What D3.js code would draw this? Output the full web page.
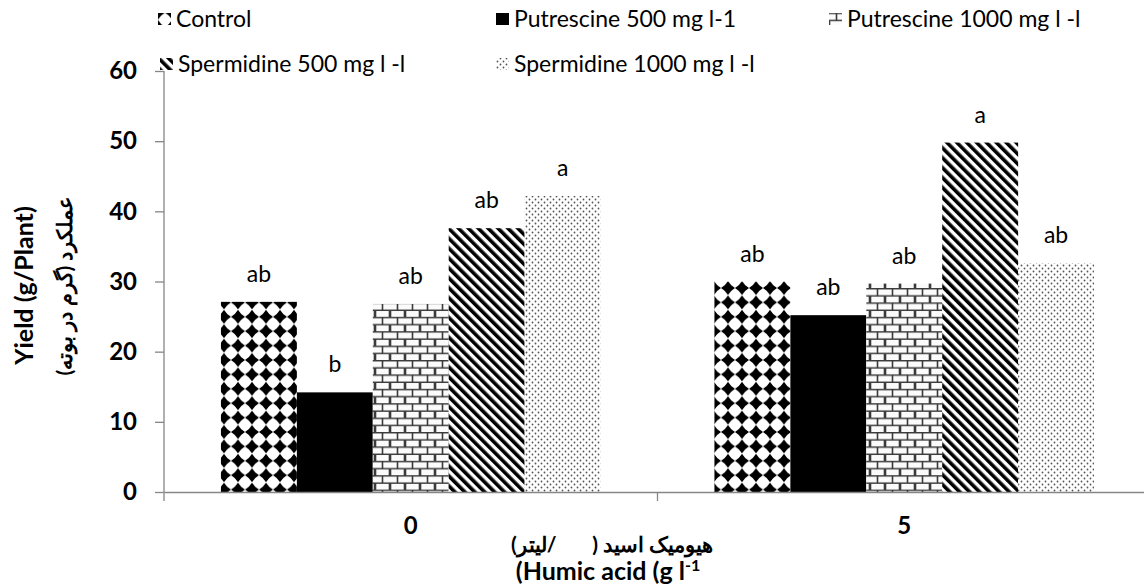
<!DOCTYPE html>
<html>
<head>
<meta charset="utf-8">
<script src="https://cdn.jsdelivr.net/npm/d3@7"></script>
<style>
  body { margin: 0; background: #fff; }
  text { font-family: Lato, "Open Sans", sans-serif; white-space: pre; }
</style>
</head>
<body>
<div id="chart"></div>
<script>
var svgWidth = 1144;
var svgHeight = 587;

// data
var groups = ["0", "5"];
var series = ["Control", "Putrescine 500 mg l-1", "Putrescine 1000 mg l -l", "Spermidine 500 mg l -l", "Spermidine 1000 mg l -l"];
var control = [27.1, 30.0];
var put500 = [14.2, 25.2];
var put1000 = [26.8, 29.7];
var spd500 = [37.6, 49.8];
var spd1000 = [42.2, 32.6];
var letters0 = ["ab", "b", "ab", "ab", "a"];
var letters5 = ["ab", "ab", "ab", "a", "ab"];
var yTicks = [0, 10, 20, 30, 40, 50, 60];

var seriesValues = [control, put500, put1000, spd500, spd1000];
var seriesLetters = [letters0, letters5];
var fills = ["url(#pCheck)", "#000", "url(#pBrick)", "url(#pDiag)", "url(#pDots)"];

var plot = { left: 164, right: 1151, top: 71, bottom: 492 };

var svg = d3.select("#chart")
  .append("svg")
  .attr("width", svgWidth)
  .attr("height", svgHeight);

// ---- patterns
var defs = svg.append("defs");

// black concave diamonds on the corners of a 14px grid
function diamond(cx, cy, r, c) {
  return `M${cx - r},${cy} Q${cx - c},${cy - c} ${cx},${cy - r} Q${cx + c},${cy - c} ${cx + r},${cy} ` +
    `Q${cx + c},${cy + c} ${cx},${cy + r} Q${cx - c},${cy + c} ${cx - r},${cy} Z`;
}
var pCheck = defs.append("pattern")
  .attr("id", "pCheck")
  .attr("patternUnits", "userSpaceOnUse")
  .attr("width", 14).attr("height", 14.4);
pCheck.append("rect").attr("width", 14).attr("height", 14.4).attr("fill", "#fff");
pCheck.append("path")
  .attr("d", [[0, 0], [14, 0], [0, 14.4], [14, 14.4]].map(p => diamond(p[0], p[1], 7, 2.6)).join(" "))
  .attr("fill", "#000");

var pBrick = defs.append("pattern")
  .attr("id", "pBrick")
  .attr("patternUnits", "userSpaceOnUse")
  .attr("width", 15).attr("height", 14.4);
pBrick.append("rect").attr("width", 15).attr("height", 14.4).attr("fill", "#fbfbfb");
pBrick.append("path")
  .attr("d", "M0,0.7H15 M0,7.9H15 M7.5,0.7V7.9 M0.5,7.9V14.4 M14.5,7.9V14.4")
  .attr("stroke", "#3a3a3a").attr("stroke-width", 1.6).attr("fill", "none");

var pDiag = defs.append("pattern")
  .attr("id", "pDiag")
  .attr("patternUnits", "userSpaceOnUse")
  .attr("width", 7).attr("height", 7)
  .attr("patternTransform", "rotate(-45)");
pDiag.append("rect").attr("width", 7).attr("height", 7).attr("fill", "#fff");
pDiag.append("rect").attr("width", 3.6).attr("height", 7).attr("fill", "#000");

var pDots = defs.append("pattern")
  .attr("id", "pDots")
  .attr("patternUnits", "userSpaceOnUse")
  .attr("width", 6).attr("height", 6);
pDots.append("rect").attr("width", 6).attr("height", 6).attr("fill", "#fff");
pDots.append("circle").attr("cx", 1.5).attr("cy", 1.5).attr("r", 0.9).attr("fill", "#555");
pDots.append("circle").attr("cx", 4.5).attr("cy", 4.5).attr("r", 0.9).attr("fill", "#555");

// ---- scales
var x0 = d3.scaleBand()
  .domain(groups)
  .range([plot.left, plot.right]);

var x1 = d3.scaleBand()
  .domain(series)
  .range([0, x0.bandwidth()])
  .paddingInner(0)
  .paddingOuter(0.75);

var y = d3.scaleLinear()
  .domain([0, 60])
  .range([plot.bottom, plot.top]);

// ---- bars
var rows = [];
groups.forEach(function (g, gi) {
  series.forEach(function (s, si) {
    rows.push({ group: g, series: s, value: seriesValues[si][gi], letter: seriesLetters[gi][si], fill: fills[si] });
  });
});

var barGroup = svg.append("g");
barGroup.selectAll("rect")
  .data(rows)
  .enter()
  .append("rect")
  .attr("x", d => x0(d.group) + x1(d.series))
  .attr("y", d => y(d.value))
  .attr("width", x1.bandwidth())
  .attr("height", d => y(0) - y(d.value))
  .attr("fill", d => d.fill);

barGroup.selectAll("text")
  .data(rows)
  .enter()
  .append("text")
  .attr("x", d => x0(d.group) + x1(d.series) + x1.bandwidth() / 2)
  .attr("y", d => y(d.value) - 20)
  .attr("text-anchor", "middle")
  .attr("font-size", 23)
  .attr("fill", "#000")
  .text(d => d.letter);

// ---- axes
var yAxis = svg.append("g")
  .attr("transform", `translate(${plot.left},0)`)
  .call(d3.axisLeft(y).tickValues(yTicks).tickSize(9).tickPadding(18));
yAxis.selectAll("path, line").attr("stroke", "#868686").attr("stroke-width", 1.3);
yAxis.select(".domain").attr("d", `M0,${plot.top}V${plot.bottom}`);
yAxis.selectAll("text")
  .attr("font-family", "Lato, sans-serif")
  .attr("font-size", 24)
  .attr("font-weight", "bold")
  .attr("fill", "#000");

var xAxis = svg.append("g")
  .attr("transform", `translate(0,${plot.bottom})`)
  .call(d3.axisBottom(x0).tickSize(0).tickPadding(25));
xAxis.select(".domain").attr("stroke", "#868686").attr("stroke-width", 1.3);
xAxis.selectAll("text")
  .attr("font-family", "Lato, sans-serif")
  .attr("font-size", 24)
  .attr("font-weight", "bold")
  .attr("fill", "#000");

// category boundary ticks
var bounds = groups.map(g => x0(g)).concat([x0(groups[groups.length - 1]) + x0.bandwidth()]);
xAxis.selectAll("line.bound")
  .data(bounds)
  .enter()
  .append("line")
  .attr("class", "bound")
  .attr("x1", d => d).attr("x2", d => d)
  .attr("y1", 0).attr("y2", 9)
  .attr("stroke", "#868686").attr("stroke-width", 1.3);

// ---- axis titles
var midY = (plot.top + plot.bottom) / 2 + 4;
svg.append("text")
  .attr("transform", `translate(33,${midY}) rotate(-90)`)
  .attr("text-anchor", "middle")
  .attr("font-size", 25)
  .attr("font-weight", "bold")
  .text("Yield (g/Plant)");

svg.append("text")
  .attr("transform", `translate(72,${midY}) rotate(-90)`)
  .attr("text-anchor", "middle")
  .attr("font-family", "DejaVu Sans")
  .attr("font-size", 21)
  .attr("font-weight", "bold")
  .text("عملکرد (گرم در بوته)");

svg.append("text")
  .attr("x", 612)
  .attr("y", 552)
  .attr("text-anchor", "middle")
  .attr("font-family", "DejaVu Sans")
  .attr("font-size", 21)
  .attr("font-weight", "bold")
  .text("هیومیک اسید (\u00A0\u00A0\u00A0\u00A0\u00A0\u00A0\u00A0/لیتر)");

var eng = svg.append("text")
  .attr("x", 608)
  .attr("y", 580)
  .attr("text-anchor", "middle")
  .attr("font-size", 25)
  .attr("font-weight", "bold");
eng.append("tspan").text("(Humic acid (g l");
eng.append("tspan").attr("dy", -9).attr("font-size", 16).text("-1");

// ---- legend
var legendPos = [
  { x: 158, y: 27 }, { x: 496, y: 27 }, { x: 829, y: 27 },
  { x: 160, y: 72 }, { x: 496, y: 72 }
];
var legend = svg.append("g")
  .selectAll("g")
  .data(series)
  .enter()
  .append("g")
  .attr("transform", (d, i) => `translate(${legendPos[i].x},${legendPos[i].y})`);

legend.append("rect")
  .attr("x", 0)
  .attr("y", -14)
  .attr("width", 13)
  .attr("height", 12)
  .attr("fill", (d, i) => fills[i]);

legend.append("text")
  .attr("x", 18)
  .attr("y", 0)
  .attr("font-size", 23)
  .attr("fill", "#000")
  .text(d => d);
</script>
</body>
</html>
